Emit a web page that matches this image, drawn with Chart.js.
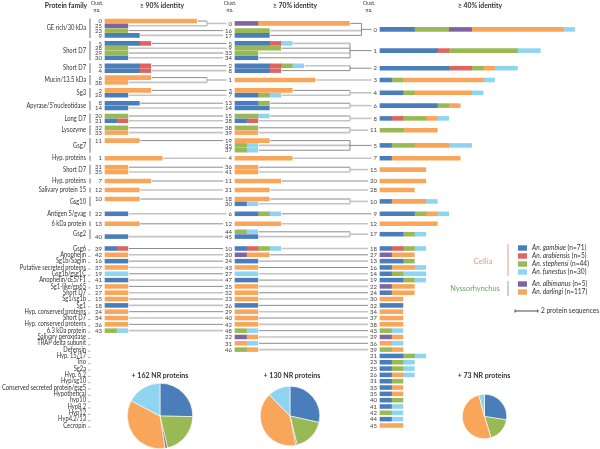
<!DOCTYPE html>
<html>
<head>
<meta charset="UTF-8">
<title>Salivary protein clusters</title>
<script src="https://cdn.jsdelivr.net/npm/chart.js"></script>
<style>
  body { margin: 0; background: #fff; }
  .wrap { position: relative; width: 600px; height: 449px; }
  .wrap canvas { position: absolute; }
</style>
</head>
<body>
<div class="wrap">
  <canvas id="bars" width="600" height="449" style="left:0;top:0"></canvas>
  <canvas id="pie90"></canvas>
  <canvas id="pie70"></canvas>
  <canvas id="pie40"></canvas>
</div>
<script>
// species in stacking order (bars and pies)
const species = ['An. gambiae', 'An. arabiensis', 'An. stephensi', 'An. albimanus', 'An. darlingi', 'An. funestus'];
const speciesN = [71, 5, 44, 5, 117, 30];
const colours = ['#4a7ebb', '#dc6461', '#98b954', '#8064a2', '#f9a65a', '#8fd4f1'];
const legendOrder = [0, 1, 2, 5, 3, 4];

// sequences per species in each cluster, index = cluster no.
// [gambiae, arabiensis, stephensi, albimanus, darlingi, funestus]
const clusters90 = [
  [0,0,0,0,8,0], [0,0,0,0,5,0], [0,0,0,0,4,0], [3,1,0,0,0,0], [3,1,0,0,0,0],
  [3,1,0,0,0,0], [0,0,0,0,4,0], [0,0,0,0,4,0], [3,0,0,0,0,0], [3,0,0,0,0,0],
  [0,0,0,0,3,0], [0,0,0,0,3,0], [0,0,0,0,3,0], [0,0,0,0,3,0], [2,0,0,0,0,0],
  [0,0,0,0,2,0], [2,0,0,0,0,0], [0,0,0,0,2,0], [2,0,0,0,0,0], [0,0,0,0,0,2],
  [0,0,2,0,0,0], [1,1,0,0,0,0], [2,0,0,0,0,0], [0,0,2,0,0,0], [0,0,0,0,2,0],
  [0,0,0,2,0,0], [2,0,0,0,0,0], [0,0,0,0,2,0], [0,0,2,0,0,0], [0,0,2,0,0,0],
  [2,0,0,0,0,0], [0,0,0,0,2,0], [0,0,2,0,0,0], [0,0,0,0,2,0], [0,0,0,0,2,0],
  [0,0,0,0,2,0], [0,0,0,0,2,0], [0,0,0,0,2,0], [0,0,0,0,2,0], [1,1,0,0,0,0],
  [2,0,0,0,0,0], [2,0,0,0,0,0], [0,0,0,0,2,0], [0,0,1,0,0,1]
];
const clusters70 = [
  [0,0,0,2,8,0], [0,0,0,0,7,0], [3,1,1,0,0,1], [0,0,0,0,5,0], [0,0,0,0,5,0],
  [3,1,0,0,0,1], [2,0,1,0,0,1], [2,0,1,0,0,1], [3,1,0,0,0,0], [0,0,4,0,0,0],
  [1,1,1,0,0,1], [0,0,0,0,4,0], [0,0,0,0,4,0], [2,0,1,0,0,0], [3,0,0,0,0,0],
  [0,0,2,0,0,1], [0,0,3,0,0,0], [3,0,0,0,0,0], [0,0,0,0,3,0], [0,0,0,0,3,0],
  [0,0,0,1,2,0], [0,0,0,0,3,0], [0,0,0,1,1,0], [0,0,0,0,2,0], [2,0,0,0,0,0],
  [0,0,0,0,2,0], [2,0,0,0,0,0], [0,0,0,0,0,2], [1,1,0,0,0,0], [0,0,0,0,2,0],
  [1,0,0,0,0,1], [0,0,0,0,1,1], [0,0,0,0,2,0], [0,0,2,0,0,0], [2,0,0,0,0,0],
  [0,0,1,0,0,1], [0,0,0,0,2,0], [0,0,1,0,0,1], [0,0,2,0,0,0], [0,0,0,0,2,0],
  [0,0,0,0,2,0], [0,0,0,0,2,0], [0,0,0,0,2,0], [0,0,0,0,2,0], [0,0,1,0,0,1],
  [2,0,0,0,0,0], [0,0,1,0,1,0], [2,0,0,0,0,0], [0,0,1,0,0,1]
];
const clusters40 = [
  [3,0,3,2,8,1], [5,1,6,0,0,2], [6,2,1,0,1,2], [1,0,1,0,7,1], [2,0,1,0,5,1],
  [1,0,2,0,3,2], [5,0,1,0,1,0], [1,0,0,0,6,0], [1,1,2,0,1,1], [3,0,1,0,1,1],
  [1,0,0,0,3,1], [0,0,2,0,3,0], [0,0,0,0,5,0], [2,0,1,0,0,0], [1,0,1,0,0,2],
  [0,0,0,0,4,0], [1,0,0,0,2,1], [2,0,1,0,0,1], [1,1,1,0,0,1], [2,0,1,0,0,1],
  [0,0,0,0,4,0], [2,0,1,0,0,1], [0,0,0,1,2,0], [1,0,1,0,0,1], [1,0,0,0,2,0],
  [1,0,1,0,0,1], [1,0,0,0,1,1], [0,0,0,1,2,0], [0,0,0,0,3,0], [0,0,0,1,1,0],
  [0,0,0,0,2,0], [1,0,1,0,0,0], [2,0,0,0,0,0], [1,0,0,0,1,0], [0,0,0,0,2,0],
  [1,0,0,0,1,0], [0,0,0,0,1,1], [0,0,0,0,2,0], [0,0,0,0,2,0], [0,0,1,0,1,0],
  [1,0,1,0,0,0], [1,0,0,0,0,1], [0,0,1,0,0,1], [0,0,1,0,0,1], [1,0,0,0,0,1],
  [0,0,0,0,2,0]
];

// families of the upper block: ≥70% clusters, each with the ≥90% clusters joining it
const upperFamilies = ['GE rich/30 kDa', 'Short D7', 'Short D7', 'Mucin/13.5 kDa', 'Sg3',
  'Apyrase/5\'nucleotidase', 'Long D7', 'Lysozyme', 'Gsg7', 'Hyp. proteins', 'Short D7',
  'Hyp. proteins', 'Salivary protein 15', 'Gsg10', 'Antigen 5/gvag', '6 kDa protein', 'Gsg2'];
const upper70 = [
  [[0, [0, 25]], [16, [23]], [17, [9]]],
  [[5, [5]], [9, [28]], [33, [29]], [34, [30]]],
  [[2, [3]], [8, [4]]],
  [[1, [6, 38]]],
  [[3, [2]], [7, [26]]],
  [[13, [8]], [14, [14]]],
  [[15, [20]], [28, [21]]],
  [[38, [32]], [39, [33]]],
  [[19, [11]], [35, []], [37, []]],
  [[4, [1]]],
  [[36, [31]], [41, [35]]],
  [[11, [7]]],
  [[21, [12]]],
  [[18, [10]], [30, []]],
  [[6, [22]]],
  [[12, [13]]],
  [[44, []], [45, [40]]]
];
const upper40 = [0, 1, 2, 3, 4, 6, 8, 11, 5, 7, 15, 20, 28, 10, 9, 12, 17];

// families of the lower block, one row each
const lowerFamilies = ['Gsg6', 'Anophelin', 'Sg1b/Saglin', 'Putative secreted proteins', 'Gsg1b/gsg1C',
  'Anophelin/cE5/F1', 'Sg1-like/gp65', 'Short D7', 'Sg1/sg1b', 'Sg1', 'Hyp. conserved proteins',
  'Short D7', 'Hyp. conserved proteins', '6.3 kDa protein', 'Salivary peroxidase', 'TRAP delta subunit',
  'Defensin', 'Hyp. 15/17', 'Trio', 'Sg2a', 'Hyp. 6.2', 'Hyp/sg10', 'Conserved secreted protein/gsg5',
  'Hypothetical', 'hyp10', 'Hyp8.2', 'Hyp12', 'Hyp4.2/13', 'Cecropin'];
const lower90 = [39, 42, 16, 37, 19, 41, 17, 27, 15, 18, 24, 34, 36, 43];
const lower70 = [10, 20, 24, 43, 27, 47, 25, 32, 23, 26, 29, 40, 42, 48, 22, 31, 46];
const lower40 = [18, 27, 13, 16, 14, 19, 22, 24, 30, 32, 34, 37, 38, 43, 29, 36, 39, 21,
  23, 25, 26, 31, 33, 35, 40, 41, 42, 44, 45];

// non-redundant (unclustered) proteins per species, stacking order
const nr90 = [41, 0, 34, 2, 57, 28];
const nr70 = [37, 0, 23, 1, 53, 16];
const nr40 = [20, 0, 13, 0, 37, 3];

// ---- layout ----
const PX_PER_SEQ = 11.45;
const COL_X = [105, 235, 380];
const TOP = 21, SLOT = 4.8, LOWER_TOP = 248.5, LOWER_STEP = 6.32;
// white space above each upper family after the first
const FAMILY_GAPS = [8, 8, 7, 8, 8, 8, 7, 8, 8, 9, 9, 9, 9, 10, 10, 8];
const FONT = 'Lato, "Open Sans", sans-serif';

const y90 = {}, y70 = {}, y40 = {};
const famSpan = [];
let cur = TOP;
upper70.forEach((fam, f) => {
  const first = cur;
  fam.forEach(([c70, from]) => {
    if (from.length) {
      const ys = from.map(c => { y90[c] = cur; cur += SLOT; return y90[c]; });
      y70[c70] = (ys[0] + ys[ys.length - 1]) / 2;
    } else {
      y70[c70] = cur; cur += SLOT;
    }
  });
  const last = cur - SLOT;
  famSpan.push([first, last]);
  const ys70 = fam.map(([c]) => y70[c]);
  y40[upper40[f]] = (Math.min(...ys70) + Math.max(...ys70)) / 2;
  cur = last + (FAMILY_GAPS[f] || 0);
});
lower40.forEach((c, i) => {
  const v = LOWER_TOP + i * LOWER_STEP;
  y40[c] = v;
  if (i < lower70.length) y70[lower70[i]] = v;
  if (i < lower90.length) y90[lower90[i]] = v;
});

const columns = [
  { counts: clusters90, ys: y90 },
  { counts: clusters70, ys: y70 },
  { counts: clusters40, ys: y40 }
];
const total = (col, c) => columns[col].counts[c].reduce((a, b) => a + b, 0);

const datasets = species.map((name, s) => {
  const data = [];
  columns.forEach((col, ci) => {
    col.counts.forEach((row, c) => {
      if (!row[s] || col.ys[c] === undefined) return;
      const start = COL_X[ci] / PX_PER_SEQ + row.slice(0, s).reduce((a, b) => a + b, 0);
      data.push({ x: [start, start + row[s]], y: col.ys[c] });
    });
  });
  return { label: name, data, backgroundColor: colours[s], borderWidth: 0,
           barThickness: 3.9, grouped: false };
});

function seg(ctx, x1, y1, x2, y2) {
  ctx.beginPath(); ctx.moveTo(x1, y1); ctx.lineTo(x2, y2); ctx.stroke();
}
function lineStyle(ctx, i) {
  if (i % 2) { ctx.strokeStyle = '#c4c4c4'; ctx.lineWidth = 1.6; }
  else { ctx.strokeStyle = '#6e6e6e'; ctx.lineWidth = 0.8; }
}
// narrow text, like the condensed face of the original
function narrowText(ctx, text, x, y, squeeze) {
  ctx.save();
  ctx.translate(x, y);
  ctx.scale(squeeze, 1);
  ctx.fillText(text, 0, 0);
  ctx.restore();
}

const figurePlugin = {
  id: 'figure',
  beforeDatasetsDraw(chart) {
    const { ctx, scales: { x } } = chart;
    const end = (col, c) => x.getPixelForValue(COL_X[col] / PX_PER_SEQ + total(col, c)) + 1;
    ctx.save();
    ctx.font = '6px ' + FONT;
    const numLeft = (col, c) => COL_X[col] - 3 - ctx.measureText(String(c)).width - 2;
    let r1 = 0, r2 = 0;
    upper70.forEach((fam, f) => {
      // ≥90% -> ≥70%
      fam.forEach(([c70, from]) => {
        if (from.length === 1) {
          lineStyle(ctx, r1++);
          seg(ctx, end(0, from[0]), y90[from[0]], numLeft(1, c70), y90[from[0]]);
        } else if (from.length > 1) {
          const bx = 207;
          from.forEach(c => { lineStyle(ctx, r1++); seg(ctx, end(0, c), y90[c], bx, y90[c]); });
          seg(ctx, bx, y90[from[0]], bx, y90[from[from.length - 1]]);
          seg(ctx, bx, y70[c70], numLeft(1, c70), y70[c70]);
        }
      });
      // ≥70% -> ≥40%
      const c40 = upper40[f];
      if (fam.length === 1) {
        lineStyle(ctx, r2++);
        seg(ctx, end(1, fam[0][0]), y70[fam[0][0]], numLeft(2, c40), y70[fam[0][0]]);
      } else {
        const bx = Math.max(350, ...fam.map(([c]) => end(1, c) + 11));
        fam.forEach(([c]) => { lineStyle(ctx, r2++); seg(ctx, end(1, c), y70[c], bx, y70[c]); });
        seg(ctx, bx, y70[fam[0][0]], bx, y70[fam[fam.length - 1][0]]);
        seg(ctx, bx, y40[c40], numLeft(2, c40), y40[c40]);
      }
    });
    lower90.forEach((c, i) => {
      lineStyle(ctx, i);
      seg(ctx, end(0, c), y90[c], numLeft(1, lower70[i]), y90[c]);
    });
    lower70.forEach((c, i) => {
      lineStyle(ctx, i + 1);
      seg(ctx, end(1, c), y70[c], numLeft(2, lower40[i]), y70[c]);
    });
    ctx.restore();
  },
  afterDatasetsDraw(chart) {
    const { ctx, scales: { x } } = chart;
    ctx.save();
    ctx.fillStyle = '#333';
    ctx.textBaseline = 'middle';

    // headers
    ctx.font = 'bold 6.8px ' + FONT;
    ctx.textAlign = 'center';
    ctx.fillText('Protein family', 66, 6);
    ctx.fillText('\u2265 90% identity', 162, 6);
    ctx.fillText('\u2265 70% identity', 295, 6);
    ctx.fillText('\u2265 40% identity', 480, 6);
    ctx.font = '5px ' + FONT;
    [97, 230, 369].forEach(cx => { ctx.fillText('Clust.', cx, 3); ctx.fillText('no.', cx, 10); });

    // cluster numbers
    ctx.font = '6px ' + FONT;
    ctx.textAlign = 'right';
    ctx.fillStyle = '#444';
    columns.forEach((col, ci) => {
      Object.keys(col.ys).forEach(c => ctx.fillText(c, COL_X[ci] - 3, col.ys[c] + 0.3));
    });

    // family labels with brackets
    ctx.fillStyle = '#333';
    ctx.font = '6.6px ' + FONT;
    const squeeze = Math.min(1, 84 / ctx.measureText('Conserved secreted protein/gsg5').width);
    ctx.strokeStyle = '#9a9a9a';
    upperFamilies.forEach((name, f) => {
      const [a, b] = famSpan[f];
      narrowText(ctx, name, 86, (a + b) / 2, squeeze);
      ctx.lineWidth = 1.4;
      seg(ctx, 90, a - 2.5, 90, b + 2.5);
    });
    lowerFamilies.forEach((name, i) => {
      const yy = LOWER_TOP + i * LOWER_STEP;
      narrowText(ctx, name, 86, yy, squeeze);
      ctx.lineWidth = 0.8;
      seg(ctx, 88, yy + 1.5, 90.5, yy + 1.5);
    });

    // legend
    ctx.textAlign = 'left';
    legendOrder.forEach((s, k) => {
      const yy = 248 + k * 8 + (k > 3 ? 4 : 0);
      ctx.fillStyle = colours[s];
      ctx.fillRect(518, yy - 2.7, 9, 5.4);
      ctx.fillStyle = '#333';
      ctx.font = 'italic 6.6px ' + FONT;
      ctx.fillText(species[s], 532, yy);
      const w = ctx.measureText(species[s]).width;
      ctx.font = '6.6px ' + FONT;
      ctx.fillText(' (n=' + speciesN[s] + ')', 532 + w, yy);
    });
    ctx.lineWidth = 1;
    ctx.strokeStyle = '#e3a183';
    seg(ctx, 508, 244, 508, 276);
    ctx.strokeStyle = '#78b878';
    seg(ctx, 508, 281, 508, 296);
    ctx.textAlign = 'center';
    ctx.font = '8px ' + FONT;
    ctx.fillStyle = '#e09a7a';
    ctx.fillText('Cellia', 483, 261);
    ctx.font = '7.4px ' + FONT;
    ctx.fillStyle = '#5faa5f';
    ctx.fillText('Nyssorhynchus', 475, 289);

    // scale bar: 2 sequences
    const sx0 = 515, sx1 = 515 + (x.getPixelForValue(2) - x.getPixelForValue(0));
    ctx.strokeStyle = '#333';
    ctx.lineWidth = 0.9;
    seg(ctx, sx0, 311, sx1, 311);
    seg(ctx, sx0, 309.5, sx0, 312.5);
    seg(ctx, sx1, 309.5, sx1, 312.5);
    ctx.fillStyle = '#333';
    ctx.textAlign = 'left';
    ctx.font = '6.6px ' + FONT;
    ctx.fillText('2 protein sequences', sx1 + 3, 311);

    // pie titles
    ctx.textAlign = 'center';
    ctx.font = 'bold 7px ' + FONT;
    [[nr90, 160], [nr70, 292], [nr40, 484]].forEach(([d, cx]) => {
      ctx.fillText('+ ' + d.reduce((a, b) => a + b, 0) + ' NR proteins', cx, 376);
    });
    ctx.restore();
  }
};

new Chart(document.getElementById('bars'), {
  type: 'bar',
  data: { datasets },
  options: {
    responsive: false,
    animation: false,
    indexAxis: 'y',
    layout: { padding: 0 },
    scales: {
      x: { type: 'linear', min: 0, max: 600 / PX_PER_SEQ, offset: false, display: false },
      y: { type: 'linear', min: 0, max: 449, reverse: true, offset: false, display: false }
    },
    plugins: { legend: { display: false }, tooltip: { enabled: false } }
  },
  plugins: [figurePlugin]
});

// pies, area proportional to the number of NR proteins
const PIE_R90 = 32;
[[nr90, 'pie90', 160], [nr70, 'pie70', 290], [nr40, 'pie40', 484]].forEach(([d, id, cx]) => {
  const n = d.reduce((a, b) => a + b, 0);
  const r = PIE_R90 * Math.sqrt(n / nr90.reduce((a, b) => a + b, 0));
  const el = document.getElementById(id);
  const size = Math.ceil(2 * r + 2);
  el.width = size; el.height = size;
  el.style.left = (cx - size / 2) + 'px';
  el.style.top = (416 - size / 2) + 'px';
  new Chart(el, {
    type: 'pie',
    data: { labels: species, datasets: [{ data: d, backgroundColor: colours, borderColor: '#fff', borderWidth: 0.6 }] },
    options: {
      responsive: false, animation: false,
      layout: { padding: 0 },
      plugins: { legend: { display: false }, tooltip: { enabled: false } }
    }
  });
});
</script>
</body>
</html>
